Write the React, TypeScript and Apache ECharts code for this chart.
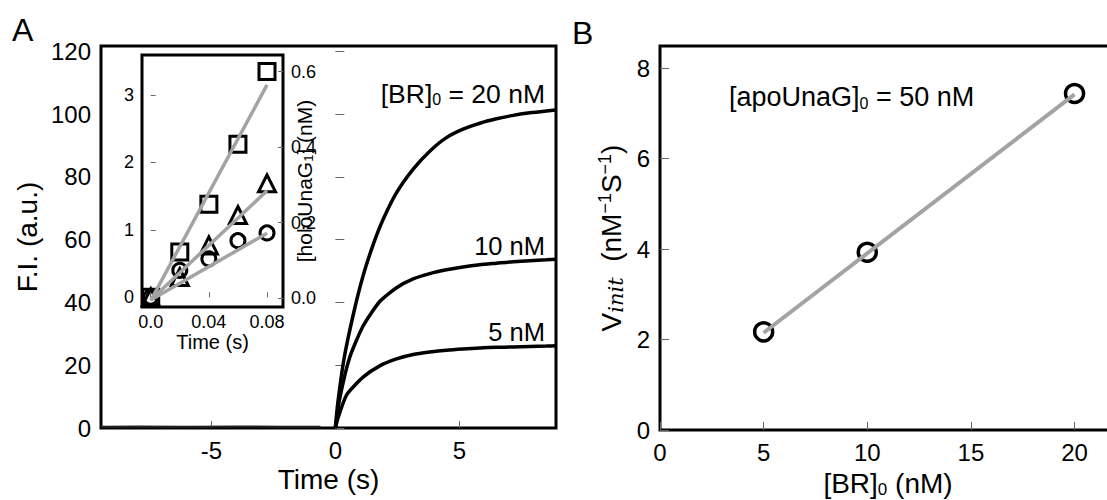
import React, { useEffect, useRef } from "react";
import * as echarts from "echarts";

const FONT = "'Liberation Sans', Arial, Helvetica, sans-serif";

// ---------- Panel A: fluorescence traces ----------
const baseTime = [-9.45, -8, -6, -4, -2, -0.6];
const baseFI = [0.4, 0.5, 0.4, 0.5, 0.4, 0.4];

const time20 = [0, 0.1, 0.35, 0.72, 1.12, 1.53, 1.93, 2.47, 3.14, 3.81, 4.48, 5.15, 5.83, 6.5, 7.17, 7.84, 8.51, 8.9];
const fi20 = [0, 8, 22, 36, 48.5, 58.5, 66.5, 75, 82.5, 88.2, 92.5, 95.2, 97.1, 98.5, 99.6, 100.4, 101, 101.3];

const time10 = [0, 0.18, 0.58, 1.12, 1.79, 2.47, 3.14, 3.81, 4.48, 5.15, 5.83, 6.5, 7.17, 7.84, 8.51, 8.9];
const fi10 = [0, 9.5, 22.5, 32.5, 40.3, 44.7, 47.5, 49.2, 50.4, 51.3, 52, 52.5, 53, 53.3, 53.6, 53.8];

const time5 = [0, 0.1, 0.45, 1.12, 1.79, 2.47, 3.14, 3.81, 4.48, 5.15, 5.83, 6.5, 7.17, 7.84, 8.51, 8.9];
const fi5 = [0, 3, 10.5, 16.2, 19.8, 22, 23.4, 24.2, 24.8, 25.2, 25.5, 25.7, 25.8, 26, 26.1, 26.2];

const mainXTicks = [-5, 0, 5];
const mainYTicks = [0, 20, 40, 60, 80, 100, 120];

// ---------- Panel A inset ----------
const insetTime = [0, 0.02, 0.04, 0.06, 0.08];
const insetSquares = [0, 0.67, 1.38, 2.27, 3.35];
const insetTriangles = [0, 0.3, 0.77, 1.22, 1.69];
const insetCircles = [0, 0.4, 0.57, 0.84, 0.955];
const insetFitTime = [0, 0.08];
const fitSquares = [-0.05, 3.15];
const fitTriangles = [-0.04, 1.58];
const fitCircles = [-0.04, 0.95];
const insetXTicks = [0, 0.04, 0.08];
const insetLeftTicks = [0, 1, 2, 3];
const insetRightTicks = [0, 0.2, 0.4, 0.6];

// ---------- Panel B ----------
const brConc = [5, 10, 20];
const vInit = [2.17, 3.93, 7.44];
const fitBConc = [5, 20];
const fitBV = [2.15, 7.42];
const bXTicks = [0, 5, 10, 15, 20];
const bYTicks = [0, 2, 4, 6, 8];

const zip = (xs: number[], ys: number[]) => xs.map((x, i) => [x, ys[i]]);

const tickStyle = { color: "#666", width: 1 };

function axis(o: any) {
  const {
    gridIndex, min, max, ticks, fontSize, margin, tickLen, formatter, position,
    name, nameGap, nameStyle, nameRotate,
  } = o;
  const a: any = {
    type: "value",
    gridIndex,
    min,
    max,
    position,
    axisLine: { show: false },
    splitLine: { show: false },
    axisTick: { show: true, inside: true, length: tickLen, customValues: ticks, lineStyle: tickStyle },
    axisLabel: {
      customValues: ticks,
      fontSize,
      color: "#000",
      fontFamily: FONT,
      margin,
      formatter,
    },
  };
  if (name) {
    a.name = name;
    a.nameLocation = "middle";
    a.nameGap = nameGap;
    a.nameTextStyle = nameStyle;
    a.nameMoveOverlap = false;
    if (nameRotate !== undefined) a.nameRotate = nameRotate;
  }
  return a;
}

const gridBase = {
  show: true,
  borderColor: "#000",
  borderWidth: 3,
  backgroundColor: "#fff",
  containLabel: false,
  outerBoundsMode: "none",
};

const emptyItem = (size: number, symbol: string, bw = 3) => ({
  type: "scatter",
  symbol,
  symbolSize: size,
  silent: true,
  clip: false,
  itemStyle: { color: "rgba(255,255,255,0)", borderColor: "#000", borderWidth: bw, opacity: 1 },
  emphasis: { disabled: true },
});

const grayLine = (width: number) => ({
  type: "line",
  symbol: "none",
  silent: true,
  clip: false,
  lineStyle: { color: "#a3a3a3", width },
  emphasis: { disabled: true },
});

const blackTrace = {
  type: "line",
  symbol: "none",
  silent: true,
  smooth: 0.2,
  lineStyle: { color: "#000", width: 3.5 },
  emphasis: { disabled: true },
};

const mainName = { fontSize: 28, color: "#000", fontFamily: FONT };

const option: any = {
  animation: false,
  backgroundColor: "#fff",
  grid: [
    { ...gridBase, left: 101, top: 46, width: 455, height: 382 },
    { ...gridBase, left: 142, top: 55, width: 141, height: 252 },
    { ...gridBase, left: 660, top: 46, width: 456, height: 384 },
  ],
  xAxis: [
    axis({
      gridIndex: 0, min: -9.45, max: 8.9, ticks: mainXTicks, fontSize: 24, margin: 10, tickLen: 7,
      name: "Time (s)", nameGap: 37, nameStyle: mainName,
    }),
    axis({
      gridIndex: 1, min: -0.006, max: 0.091, ticks: insetXTicks, fontSize: 18, margin: 6, tickLen: 5,
      formatter: (v: number) => (v === 0 ? "0.0" : String(v)),
      name: "Time (s)", nameGap: 25, nameStyle: { fontSize: 20, color: "#000", fontFamily: FONT },
    }),
    axis({
      gridIndex: 2, min: 0, max: 22, ticks: bXTicks, fontSize: 24, margin: 10, tickLen: 8,
      name: "{m|[BR]}{s|0}{m| (nM)}", nameGap: 38,
      nameStyle: {
        fontFamily: FONT,
        color: "#000",
        rich: {
          m: { fontSize: 28, lineHeight: 30, color: "#000", fontFamily: FONT },
          s: { fontSize: 17, lineHeight: 8, verticalAlign: "bottom", color: "#000", fontFamily: FONT },
        },
      },
    }),
  ],
  yAxis: [
    axis({
      gridIndex: 0, min: 0, max: 121.7, ticks: mainYTicks, fontSize: 24, margin: 10, tickLen: 9,
      name: "F.I. (a.u.)", nameGap: 60, nameStyle: mainName,
    }),
    axis({
      gridIndex: 1, min: -0.144, max: 3.594, ticks: insetLeftTicks, fontSize: 18, margin: 8, tickLen: 5,
      position: "left",
    }),
    axis({
      gridIndex: 1, min: -0.023, max: 0.644, ticks: insetRightTicks, fontSize: 18, margin: 8, tickLen: 5,
      position: "right",
      formatter: (v: number) => v.toFixed(1),
      name: "{m|[holoUnaG}{s|1}{m|] (nM)}", nameGap: 10, nameRotate: 90,
      nameStyle: {
        fontFamily: FONT,
        color: "#000",
        rich: {
          m: { fontSize: 21, lineHeight: 22, color: "#000", fontFamily: FONT },
          s: { fontSize: 13, lineHeight: 6, verticalAlign: "bottom", color: "#000", fontFamily: FONT },
        },
      },
    }),
    axis({
      gridIndex: 2, min: 0, max: 8.49, ticks: bYTicks, fontSize: 24, margin: 10, tickLen: 9,
      name: "{m|V}{i|init}{m|  (nM}{p|\u22121}{m|S}{p|\u22121}{m|)}", nameGap: 34,
      nameStyle: {
        fontFamily: FONT,
        color: "#000",
        rich: {
          m: { fontSize: 28, lineHeight: 30, color: "#000", fontFamily: FONT },
          i: {
            fontSize: 21, lineHeight: 8, verticalAlign: "bottom", color: "#000",
            fontFamily: "'DejaVu Serif', 'Liberation Serif', serif", fontStyle: "italic",
          },
          p: { fontSize: 18, lineHeight: 8, verticalAlign: "top", color: "#000", fontFamily: FONT },
        },
      },
    }),
  ],
  series: [
    { ...blackTrace, xAxisIndex: 0, yAxisIndex: 0, data: zip(baseTime, baseFI), smooth: false, lineStyle: { color: "#222", width: 2 } },
    { ...blackTrace, xAxisIndex: 0, yAxisIndex: 0, data: zip(time5, fi5) },
    { ...blackTrace, xAxisIndex: 0, yAxisIndex: 0, data: zip(time10, fi10) },
    { ...blackTrace, xAxisIndex: 0, yAxisIndex: 0, data: zip(time20, fi20) },

    { ...emptyItem(16, "rect"), xAxisIndex: 1, yAxisIndex: 1, data: zip(insetTime, insetSquares) },
    { ...emptyItem(17, "triangle"), xAxisIndex: 1, yAxisIndex: 1, data: zip(insetTime, insetTriangles) },
    { ...emptyItem(14, "circle"), xAxisIndex: 1, yAxisIndex: 1, data: zip(insetTime, insetCircles) },
    { ...grayLine(3.5), xAxisIndex: 1, yAxisIndex: 1, data: zip(insetFitTime, fitSquares) },
    { ...grayLine(3.5), xAxisIndex: 1, yAxisIndex: 1, data: zip(insetFitTime, fitTriangles) },
    { ...grayLine(3.5), xAxisIndex: 1, yAxisIndex: 1, data: zip(insetFitTime, fitCircles) },

    { ...grayLine(4), xAxisIndex: 2, yAxisIndex: 3, data: zip(fitBConc, fitBV) },
    { ...emptyItem(18, "circle", 3.5), xAxisIndex: 2, yAxisIndex: 3, data: zip(brConc, vInit) },
  ],
  graphic: [
    { type: "text", x: 12, y: 14, style: { text: "A", fontSize: 32, fontFamily: FONT, fill: "#000" } },
    { type: "text", x: 572, y: 17, style: { text: "B", fontSize: 32, fontFamily: FONT, fill: "#000" } },
    {
      type: "text", x: 545, y: 94, z: 10,
      style: {
        text: "{m|[BR]}{s|0}{m| = 20 nM}", align: "right", verticalAlign: "middle",
        rich: {
          m: { fontSize: 26.5, lineHeight: 27, fill: "#000", fontFamily: FONT },
          s: { fontSize: 16, lineHeight: 8, verticalAlign: "bottom", fill: "#000", fontFamily: FONT },
        },
      },
    },
    { type: "text", x: 545, y: 246, z: 10, style: { text: "10 nM", fontSize: 25.5, fontFamily: FONT, fill: "#000", align: "right", verticalAlign: "middle" } },
    { type: "text", x: 545, y: 332, z: 10, style: { text: "5 nM", fontSize: 25.5, fontFamily: FONT, fill: "#000", align: "right", verticalAlign: "middle" } },
    {
      type: "text", x: 729, y: 97, z: 10,
      style: {
        text: "{m|[apoUnaG]}{s|0}{m| = 50 nM}", align: "left", verticalAlign: "middle",
        rich: {
          m: { fontSize: 27, lineHeight: 28, fill: "#000", fontFamily: FONT },
          s: { fontSize: 16, lineHeight: 8, verticalAlign: "bottom", fill: "#000", fontFamily: FONT },
        },
      },
    },
  ],
};

export default function App() {
  const ref = useRef<HTMLDivElement>(null);
  useEffect(() => {
    const chart = echarts.init(ref.current!, null, { renderer: "svg" });
    chart.setOption(option);
    return () => chart.dispose();
  }, []);
  return (
    <div
      ref={ref}
      style={{ position: "absolute", left: 0, top: 0, width: 1107, height: 500, background: "#fff", overflow: "hidden" }}
    />
  );
}
